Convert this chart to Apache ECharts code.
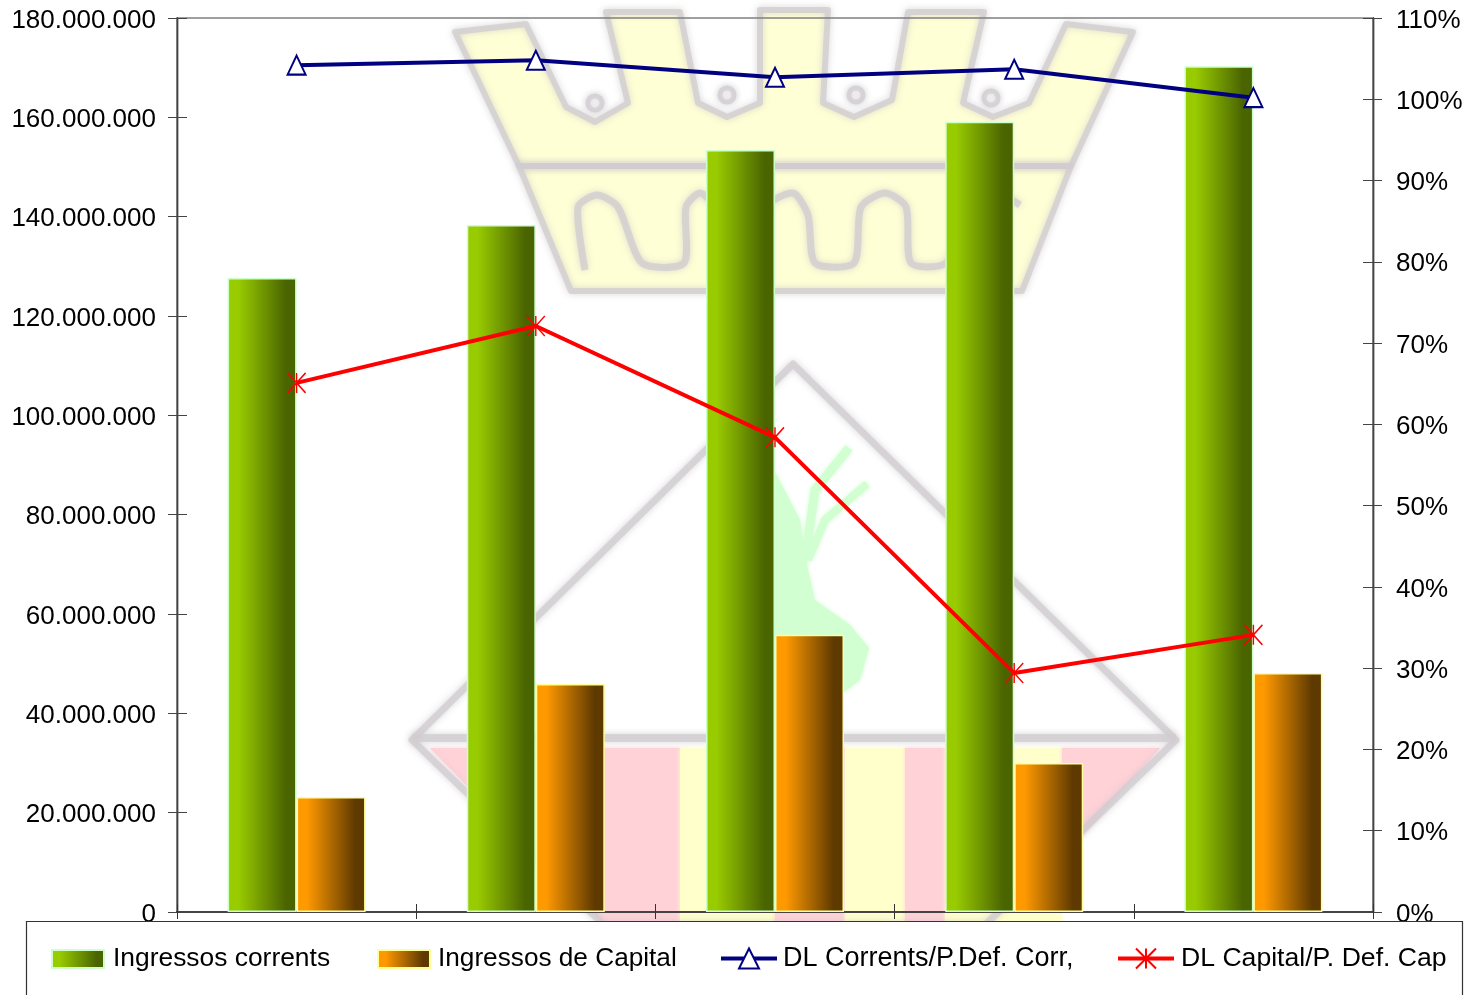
<!DOCTYPE html>
<html><head><meta charset="utf-8">
<style>html,body{margin:0;padding:0;background:#fff;overflow:hidden}#c{width:1468px;height:995px}</style>
<script src="https://cdn.jsdelivr.net/npm/echarts@6/dist/echarts.min.js"></script>
</head><body><div id="c"></div>
<script>
const categories = ['1','2','3','4','5'];
const ingressosCorrents = [127650000,138300000,153400000,159100000,170300000];
const ingressosCapital = [23150000,45900000,55800000,30000000,48100000];
const dlCorrents = [104.2,104.8,102.7,103.7,100.2];
const dlCapital = [65.1,72.1,58.4,29.4,34.1];
const FONT = '"Liberation Sans", Arial, sans-serif';
const ASTERISK = 'path://M0 -10L0 10M-9 -10L9 10M-9 10L9 -10';

const grad = (a,b)=>({type:'linear',x:0,y:0,x2:1,y2:0,colorStops:[{offset:0,color:a},{offset:.15,color:a},{offset:.85,color:b},{offset:1,color:b}]});
const green = grad('#99cc00','#4a6400');
const orange = grad('#ff9900','#5f3a00');

// Faded crest behind the plot
const GREY='rgba(208,204,208,0.75)';
const soft={shadowBlur:7,shadowColor:'rgba(200,196,200,0.9)'};
const fillSoft=c=>({fill:c,shadowBlur:4,shadowColor:c});
const poly=(pts,fill,z=-5)=>({type:'polygon',silent:true,z,shape:{points:pts},style:fillSoft(fill)});
const outline=(pts,w=8,closed=true,smooth=0)=>({type:closed?'polygon':'polyline',silent:true,z:-3,shape:{points:pts,smooth},style:Object.assign({fill:null,stroke:GREY,lineWidth:w,lineJoin:'round'},soft)});
const ring=(cx,cy)=>({type:'circle',silent:true,z:-2,shape:{cx,cy,r:7},style:Object.assign({fill:'#fff',stroke:GREY,lineWidth:5},soft)});
const crownTop=[[455,32],[526,24],[566,107],[595,122],[628,103],[606,12],[680,12],[698,103],[727,117],[760,103],[760,10],[828,10],[823,103],[854,117],[892,100],[908,12],[984,12],[963,103],[993,117],[1029,103],[1066,24],[1133,32],[1071,166],[519,166]];
const crownLow=[[519,166],[1071,166],[1022,291],[571,291]];
const arches=[[585,270],[578,207],[597,195],[618,207],[642,263],[684,263],[686,207],[700,193],[715,207],[740,263],[765,207],[793,193],[808,215],[815,263],[854,263],[861,207],[885,193],[906,207],[911,263],[946,263],[975,205],[1000,195],[1020,205]];
const diamond=[[793,364],[1176,740],[985,925],[604,925],[412,740]];
const watermark=[
 poly(crownTop,'#ffffd6'),poly(crownLow,'#ffffd6'),
 outline(crownTop,6),outline(crownLow,6),outline(arches,7,false,0.25),
 ring(595,103),ring(727,95),ring(856,95),ring(991,98),
 poly([[430,748],[680,748],[680,925],[604,925]],'#ffd2d8'),
 poly([[680,748],[775,748],[775,925],[680,925]],'#ffffcc'),
 poly([[775,748],[845,748],[845,925],[775,925]],'#ffd2d8'),
 poly([[845,748],[905,748],[905,925],[845,925]],'#ffffcc'),
 poly([[905,748],[945,748],[945,925],[905,925]],'#ffd2d8'),
 poly([[945,748],[1062,748],[1062,925],[945,925]],'#ffffcc'),
 poly([[1062,748],[1160,748],[1062,858]],'#ffd2d8'),
 poly([[774,470],[800,520],[808,570],[815,600],[850,625],[869,648],[860,680],[840,695],[774,700]],'#d2ffd2'),
 {type:'polyline',silent:true,z:-5,shape:{points:[[849,448],[815,490],[805,560]]},style:{fill:null,stroke:'#d2ffd2',lineWidth:9,shadowBlur:4,shadowColor:'#d2ffd2'}},
 {type:'polyline',silent:true,z:-5,shape:{points:[[867,484],[825,520],[808,560]]},style:{fill:null,stroke:'#d2ffd2',lineWidth:8,shadowBlur:4,shadowColor:'#d2ffd2'}},
 outline(diamond,7),
 outline([[412,738],[1176,738]],8,false),
 {type:'rect',silent:true,z:50,shape:{x:26.5,y:921.5,width:1436,height:90},style:{fill:'#fff',stroke:'#333',lineWidth:1.2}}
];

const tickStyle={color:'#444',width:1};
const valueAxis=(pos,max,interval,fmt,inside)=>({
 type:'value',position:pos,min:0,max,interval,
 splitLine:{show:false},
 axisLine:{show:true,onZero:false,lineStyle:{color:'#444',width:1.4}},
 axisTick:{show:true,inside,length:inside?10:9,lineStyle:tickStyle},
 axisLabel:{show:!inside,margin:pos==='left'?21:23,color:'#000',fontFamily:FONT,fontSize:26,
  formatter:v=>'{a|'+fmt(v)+'}',
  rich:{a:{fontFamily:FONT,fontSize:26,color:'#000',padding:[5,0,0,0]}}}
});
const catAxis=(inside)=>({
 type:'category',position:'bottom',data:categories,
 axisLine:{show:true,lineStyle:{color:'#444',width:2}},
 axisTick:{show:true,inside,length:inside?8:7,lineStyle:{color:'#333',width:1}},
 axisLabel:{show:false},splitLine:{show:false}
});
const dots=v=>String(v).replace(/\B(?=(\d{3})+$)/g,'.');
const pct=v=>v+'%';
const leg=(name,left,w,h,top,pad,size,extra)=>Object.assign({
 show:true,data:[name],left,top,orient:'horizontal',padding:0,selectedMode:false,
 itemWidth:w,itemHeight:h,z:60,
 textStyle:{fontFamily:FONT,fontSize:size,color:'#000',padding:[0,0,0,pad]}
},extra||{});
const N=['Ingressos corrents','Ingressos de Capital','DL Corrents/P.Def. Corr,','DL Capital/P. Def. Cap'];
const rectIcon={icon:'rect'};

const chart=echarts.init(document.getElementById('c'),null,{renderer:'canvas',width:1468,height:995});
chart.setOption({
 animation:false,backgroundColor:'#fff',
 graphic:{elements:watermark},
 grid:{left:177,right:95,top:18,bottom:83,show:true,borderColor:'#808080',borderWidth:1.5,backgroundColor:'transparent'},
 legend:[
  leg(N[0],51,52,18,946,4,26.4,rectIcon),
  leg(N[1],377,52,18,946,3,26.2,rectIcon),
  leg(N[2],719,56,25,945,1,27,{lineStyle:{width:4}}),
  leg(N[3],1116,56,25,945,2,26.6,{lineStyle:{width:4}})
 ],
 xAxis:[catAxis(false),catAxis(true)],
 yAxis:[valueAxis('left',180000000,20000000,dots,false),valueAxis('right',110,10,pct,false),
        valueAxis('left',180000000,20000000,dots,true),valueAxis('right',110,10,pct,true)],
 series:[
  {name:N[0],type:'bar',data:ingressosCorrents,barWidth:69,barGap:0,z:2,itemStyle:{color:green,borderColor:'#ccffcc',borderWidth:1.5}},
  {name:N[1],type:'bar',data:ingressosCapital,barWidth:69,barGap:0,z:2,itemStyle:{color:orange,borderColor:'#ffff99',borderWidth:1.5}},
  {name:N[2],type:'line',yAxisIndex:1,data:dlCorrents,z:4,symbol:'triangle',symbolSize:[18,19],showAllSymbol:true,
   lineStyle:{color:'#000080',width:4},itemStyle:{color:'#fff',borderColor:'#000080',borderWidth:2}},
  {name:N[3],type:'line',yAxisIndex:1,data:dlCapital,z:4,symbol:ASTERISK,symbolSize:[18,20],showAllSymbol:true,
   lineStyle:{color:'#ff0000',width:4},itemStyle:{color:'none',borderColor:'#ff0000',borderWidth:1.5}}
 ]
});
</script></body></html>
